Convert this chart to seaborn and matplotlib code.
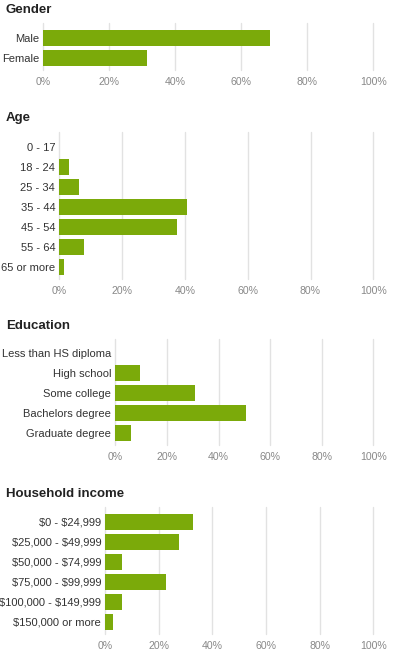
import matplotlib
matplotlib.use("Agg")
import matplotlib.pyplot as plt
from matplotlib import font_manager
import seaborn as sns

# survey results, percent of respondents
gender_cats = ["Male", "Female"]
gender_vals = [68.7, 31.3]

age_cats = ["0 - 17", "18 - 24", "25 - 34", "35 - 44", "45 - 54", "55 - 64", "65 or more"]
age_vals = [0.0, 3.0, 6.3, 40.7, 37.5, 7.9, 1.5]

edu_cats = ["Less than HS diploma", "High school", "Some college",
            "Bachelors degree", "Graduate degree"]
edu_vals = [0.0, 9.6, 30.9, 50.6, 6.1]

income_cats = ["$0 - $24,999", "$25,000 - $49,999", "$50,000 - $74,999",
               "$75,000 - $99,999", "$100,000 - $149,999", "$150,000 or more"]
income_vals = [32.7, 27.5, 6.2, 22.6, 6.2, 2.9]

x_ticks = [0, 20, 40, 60, 80, 100]
x_labels = ["0%", "20%", "40%", "60%", "80%", "100%"]

sns.set_theme(style="white")
installed = {f.name for f in font_manager.fontManager.ttflist}
plt.rcParams["font.family"] = ["Liberation Sans", "DejaVu Sans"]
plt.rcParams["text.parse_math"] = False
title_font = "Liberation Sans Narrow" if "Liberation Sans Narrow" in installed else "Liberation Sans"

W, H = 399, 655
ROW = 20.0
RIGHT = 373.3
GREEN = "#7baa0a"

# (title, cats, vals, title y, first row centre y, left x) in pixels
panels = [
    ("Gender", gender_cats, gender_vals, 10, 37.8, 43.3),
    ("Age", age_cats, age_vals, 118, 146.7, 59.3),
    ("Education", edu_cats, edu_vals, 325.7, 353.3, 115.3),
    ("Household income", income_cats, income_vals, 494, 521.7, 105.3),
]

fig = plt.figure(figsize=(W / 100, H / 100), dpi=100)

for title, cats, vals, ty, c0, x0 in panels:
    n = len(cats)
    top_pad, bot_pad = 0.72, 0.6
    top = c0 - top_pad * ROW
    bottom = c0 + (n - 1 + bot_pad) * ROW
    ax = fig.add_axes([x0 / W, 1 - bottom / H, (RIGHT - x0) / W, (bottom - top) / H])
    sns.barplot(x=vals, y=cats, ax=ax, orient="h", color=GREEN,
                saturation=1, width=0.8, edgecolor="none")
    ax.set_xlim(0, 100)
    ax.set_ylim(n - 1 + bot_pad, -top_pad)
    ax.set_xticks(x_ticks)
    ax.set_xticklabels(x_labels)
    ax.xaxis.grid(True, color="#e2e2e2", lw=1)
    for gl in ax.get_xgridlines():
        gl.set_clip_on(False)
    ax.yaxis.grid(False)
    ax.set_axisbelow(True)
    for s in ax.spines.values():
        s.set_visible(False)
    ax.tick_params(axis="x", length=0, pad=5, labelsize=7.6, labelcolor="#888888")
    ax.tick_params(axis="y", length=0, pad=3, labelsize=8, labelcolor="#333333")
    ax.set_xlabel("")
    ax.set_ylabel("")
    fig.text(6 / W, 1 - ty / H, title, ha="left", va="center",
             fontsize=9.5, fontweight="bold", color="#222222", family=title_font)

fig.savefig("out.png", dpi=100)
